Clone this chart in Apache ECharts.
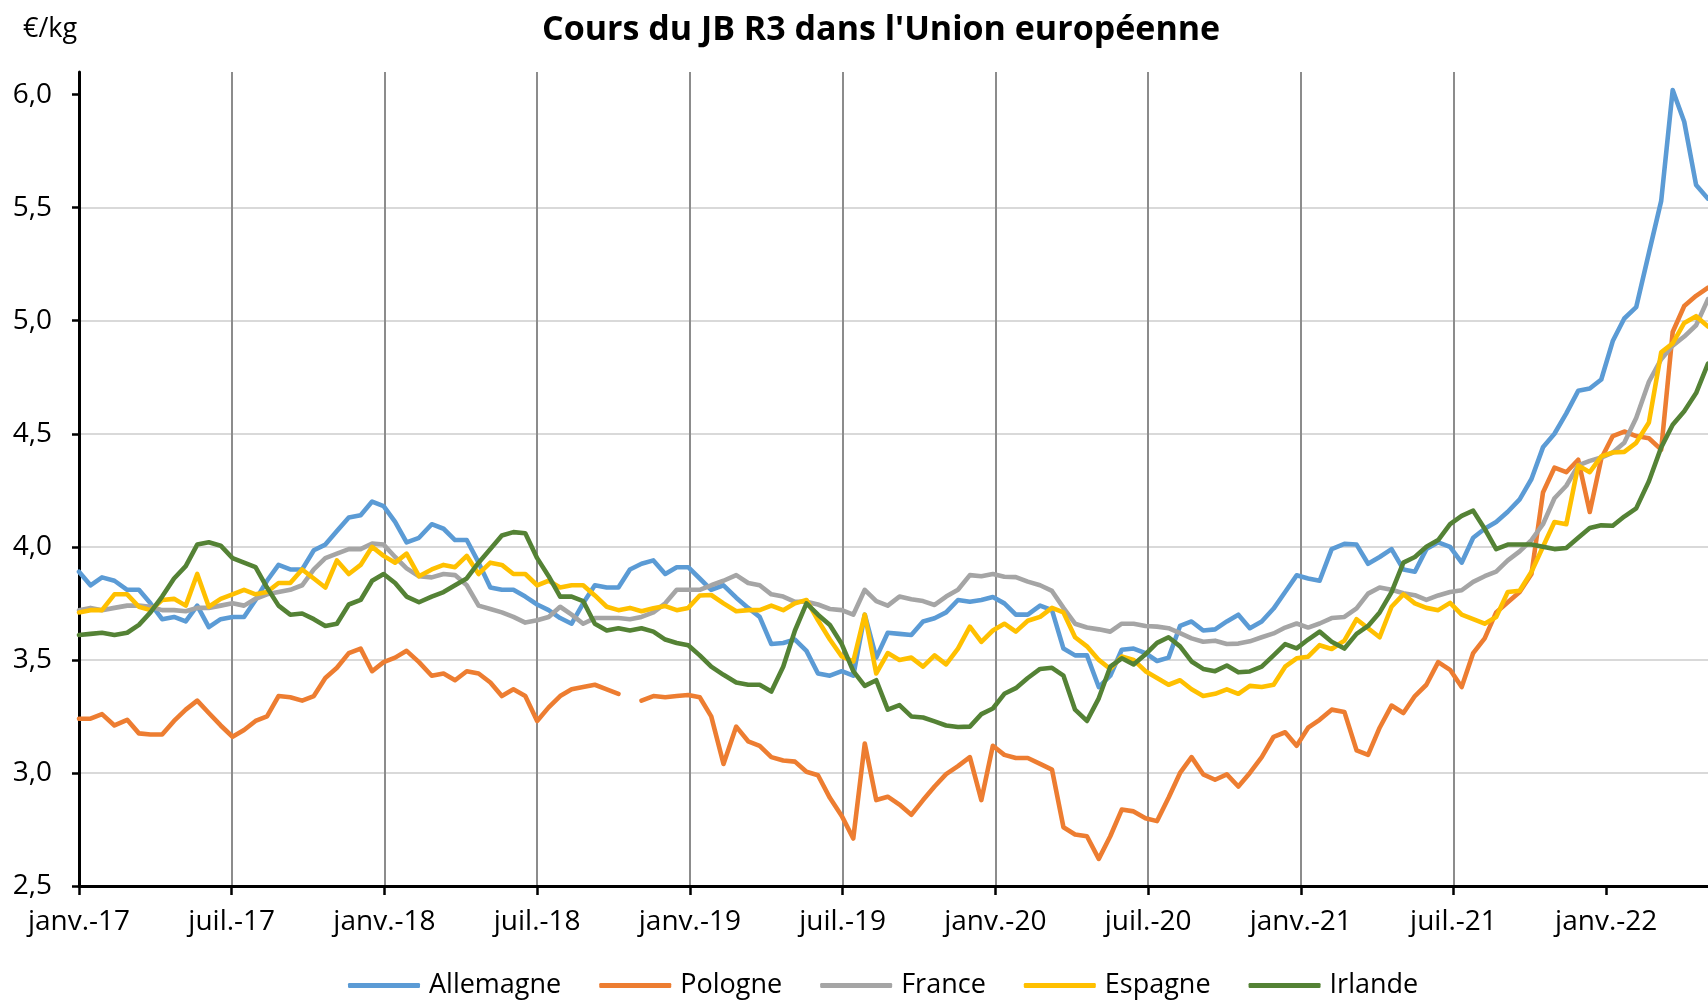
<!DOCTYPE html>
<html>
<head>
<meta charset="utf-8">
<script src="https://cdn.jsdelivr.net/npm/echarts@6/dist/echarts.min.js"></script>
</head>
<body style="margin:0">
<div id="main" style="width:1708px;height:1000px"></div>
<script>
// one quote every 14 days from 1 Jan 2017, x axis counted in months
var stepDays = 14;
var names = ['Allemagne', 'Pologne', 'France', 'Espagne', 'Irlande'];
var colors = ['#5b9bd5', '#ed7d31', '#a5a5a5', '#ffc000', '#548235'];
var yTicks = [2.5, 3.0, 3.5, 4.0, 4.5, 5.0, 5.5, 6.0];
var xTicks = [0, 6, 12, 18, 24, 30, 36, 42, 48, 54, 60];
var xLabels = ['janv.-17', 'juil.-17', 'janv.-18', 'juil.-18', 'janv.-19', 'juil.-19',
               'janv.-20', 'juil.-20', 'janv.-21', 'juil.-21', 'janv.-22'];

var allemagne = [
  3.89, 3.83, 3.865, 3.85, 3.81, 3.81, 3.75, 3.68, 3.69, 3.67, 3.74, 3.645, 3.68, 3.69, 3.69, 3.765, 3.85, 3.92, 3.90, 3.90, 3.985, 4.01, 4.07, 4.13,
  4.14, 4.2, 4.18, 4.11, 4.02, 4.04, 4.10, 4.08, 4.03, 4.03, 3.93, 3.82, 3.81, 3.81, 3.78, 3.745, 3.72, 3.685, 3.66, 3.75, 3.83, 3.82, 3.82, 3.90,
  3.925, 3.94, 3.88, 3.91, 3.91, 3.86, 3.81, 3.83, 3.775, 3.73, 3.69, 3.57, 3.575, 3.59, 3.54, 3.44, 3.43, 3.45, 3.43, 3.70, 3.51, 3.62, 3.615, 3.61,
  3.67, 3.684, 3.71, 3.765, 3.757, 3.765, 3.778, 3.75, 3.70, 3.70, 3.74, 3.72, 3.55, 3.52, 3.52, 3.38, 3.43, 3.545, 3.55, 3.53, 3.495, 3.51, 3.65, 3.67,
  3.63, 3.635, 3.67, 3.70, 3.64, 3.67, 3.727, 3.80, 3.874, 3.86, 3.85, 3.99, 4.013, 4.01, 3.925, 3.955, 3.99, 3.90, 3.89, 3.99, 4.02, 4.0, 3.93,
  4.04, 4.08, 4.11, 4.155, 4.21, 4.30, 4.44, 4.50, 4.59, 4.69, 4.70, 4.74, 4.91, 5.01, 5.06, 5.30, 5.53, 6.02, 5.88, 5.60, 5.54
];
var pologne = [
  3.24, 3.24, 3.26, 3.21, 3.235, 3.175, 3.17, 3.17, 3.23, 3.28, 3.32, 3.265, 3.21, 3.16, 3.19, 3.23, 3.25, 3.34, 3.335, 3.32, 3.34, 3.42, 3.465, 3.53,
  3.55, 3.45, 3.49, 3.51, 3.54, 3.49, 3.43, 3.44, 3.41, 3.45, 3.44, 3.40, 3.34, 3.37, 3.34, 3.23, 3.29, 3.34, 3.37, 3.38, 3.39, 3.37, 3.35, null,
  3.32, 3.34, 3.335, 3.34, 3.345, 3.335, 3.25, 3.04, 3.205, 3.14, 3.12, 3.07, 3.055, 3.05, 3.005, 2.99, 2.89, 2.81, 2.71, 3.13, 2.88, 2.895, 2.86, 2.815,
  2.88, 2.94, 2.995, 3.03, 3.07, 2.88, 3.12, 3.08, 3.066, 3.066, 3.04, 3.015, 2.76, 2.728, 2.72, 2.62, 2.72, 2.838, 2.83, 2.80, 2.787, 2.89, 3.0, 3.07,
  2.994, 2.97, 2.994, 2.94, 3.0, 3.07, 3.16, 3.18, 3.12, 3.20, 3.235, 3.28, 3.27, 3.10, 3.08, 3.20, 3.298, 3.265, 3.34, 3.39, 3.49, 3.456, 3.38,
  3.53, 3.595, 3.71, 3.755, 3.80, 3.88, 4.24, 4.35, 4.33, 4.385, 4.154, 4.39, 4.49, 4.51, 4.49, 4.48, 4.43, 4.95, 5.065, 5.11, 5.146
];
var france = [
  3.72, 3.73, 3.72, 3.73, 3.74, 3.74, 3.735, 3.72, 3.72, 3.715, 3.73, 3.73, 3.74, 3.75, 3.74, 3.77, 3.79, 3.80, 3.81, 3.83, 3.90, 3.95, 3.97, 3.99,
  3.99, 4.015, 4.01, 3.955, 3.905, 3.87, 3.865, 3.88, 3.875, 3.83, 3.74, 3.725, 3.71, 3.69, 3.665, 3.675, 3.69, 3.735, 3.70, 3.66, 3.685, 3.685, 3.685, 3.68,
  3.69, 3.71, 3.75, 3.81, 3.81, 3.81, 3.83, 3.85, 3.875, 3.84, 3.83, 3.79, 3.78, 3.757, 3.757, 3.745, 3.725, 3.72, 3.70, 3.81, 3.76, 3.74, 3.78, 3.768,
  3.76, 3.743, 3.78, 3.81, 3.875, 3.87, 3.88, 3.868, 3.866, 3.846, 3.83, 3.805, 3.73, 3.66, 3.643, 3.635, 3.625, 3.66, 3.66, 3.65, 3.647, 3.64, 3.618, 3.595,
  3.58, 3.585, 3.57, 3.572, 3.582, 3.60, 3.617, 3.643, 3.661, 3.643, 3.661, 3.685, 3.69, 3.728, 3.793, 3.82, 3.81, 3.795, 3.786, 3.765, 3.785, 3.80, 3.808,
  3.845, 3.87, 3.89, 3.94, 3.98, 4.03, 4.10, 4.215, 4.27, 4.36, 4.38, 4.395, 4.417, 4.46, 4.57, 4.73, 4.83, 4.89, 4.93, 4.98, 5.095
];
var espagne = [
  3.71, 3.72, 3.72, 3.79, 3.79, 3.735, 3.72, 3.765, 3.77, 3.74, 3.88, 3.735, 3.77, 3.79, 3.81, 3.79, 3.80, 3.84, 3.84, 3.90, 3.86, 3.82, 3.94, 3.88,
  3.92, 4.0, 3.96, 3.93, 3.97, 3.87, 3.90, 3.92, 3.91, 3.96, 3.88, 3.93, 3.92, 3.88, 3.88, 3.83, 3.85, 3.82, 3.83, 3.83, 3.785, 3.735, 3.72, 3.73,
  3.715, 3.728, 3.738, 3.72, 3.73, 3.785, 3.787, 3.75, 3.715, 3.72, 3.72, 3.74, 3.72, 3.75, 3.765, 3.675, 3.59, 3.515, 3.493, 3.70, 3.44, 3.53, 3.50, 3.51,
  3.47, 3.52, 3.48, 3.55, 3.647, 3.58, 3.63, 3.66, 3.625, 3.673, 3.69, 3.73, 3.71, 3.60, 3.56, 3.50, 3.46, 3.515, 3.50, 3.45, 3.42, 3.39, 3.41, 3.37,
  3.34, 3.35, 3.37, 3.35, 3.385, 3.38, 3.39, 3.47, 3.507, 3.514, 3.565, 3.548, 3.585, 3.68, 3.64, 3.60, 3.735, 3.79, 3.75, 3.73, 3.72, 3.752, 3.70,
  3.68, 3.66, 3.69, 3.80, 3.806, 3.89, 4.0, 4.11, 4.10, 4.36, 4.33, 4.40, 4.417, 4.42, 4.46, 4.55, 4.86, 4.90, 4.99, 5.02, 4.974
];
var irlande = [
  3.61, 3.615, 3.62, 3.61, 3.62, 3.655, 3.71, 3.78, 3.86, 3.915, 4.01, 4.02, 4.005, 3.95, 3.93, 3.91, 3.82, 3.74, 3.70, 3.705, 3.68, 3.65, 3.66, 3.745,
  3.765, 3.85, 3.88, 3.84, 3.78, 3.755, 3.78, 3.80, 3.83, 3.86, 3.93, 3.99, 4.05, 4.065, 4.06, 3.95, 3.87, 3.78, 3.78, 3.76, 3.66, 3.63, 3.64, 3.63,
  3.64, 3.625, 3.59, 3.575, 3.565, 3.52, 3.47, 3.434, 3.40, 3.39, 3.39, 3.36, 3.47, 3.63, 3.75, 3.70, 3.654, 3.57, 3.45, 3.385, 3.41, 3.28, 3.30, 3.25,
  3.245, 3.228, 3.21, 3.203, 3.205, 3.26, 3.285, 3.35, 3.375, 3.42, 3.46, 3.465, 3.43, 3.28, 3.23, 3.33, 3.47, 3.507, 3.48, 3.525, 3.575, 3.60, 3.56, 3.493,
  3.46, 3.45, 3.475, 3.445, 3.449, 3.47, 3.52, 3.57, 3.551, 3.59, 3.625, 3.58, 3.55, 3.615, 3.65, 3.71, 3.80, 3.93, 3.955, 4.0, 4.03, 4.10, 4.137,
  4.16, 4.08, 3.99, 4.01, 4.01, 4.01, 4.0, 3.99, 3.995, 4.04, 4.083, 4.095, 4.093, 4.134, 4.17, 4.29, 4.44, 4.54, 4.60, 4.68, 4.81
];
var values = [allemagne, pologne, france, espagne, irlande];

// position of quote i in months since janv.-17
function monthPos(i) {
    var d = new Date(Date.UTC(2017, 0, 1 + i * stepDays));
    var y = d.getUTCFullYear(), m = d.getUTCMonth();
    var dim = new Date(Date.UTC(y, m + 1, 0)).getUTCDate();
    return (y - 2017) * 12 + m + (d.getUTCDate() - 1) / dim;
}

var font = 'Open Sans';
var chart = echarts.init(document.getElementById('main'));
var series = names.map(function (n, k) {
    return {
        name: n,
        type: 'line',
        showSymbol: false,
        symbol: 'none',
        connectNulls: false,
        color: colors[k],
        lineStyle: {width: 4.6, color: colors[k], cap: 'round', join: 'round'},
        data: values[k].map(function (v, i) { return [monthPos(i), v]; })
    };
});

chart.setOption({
    animation: false,
    textStyle: {fontFamily: font},
    title: [{
        text: "Cours du JB R3 dans l'Union européenne",
        left: 537, top: 8,
        textStyle: {fontSize: 34, fontWeight: 'bold', color: '#000', fontFamily: font}
    }, {
        text: '€/kg',
        left: 18, top: 11,
        textStyle: {fontSize: 27, fontWeight: 'normal', color: '#000', fontFamily: font}
    }],
    legend: {
        data: names,
        left: 343, top: 967,
        icon: 'roundRect',
        itemWidth: 72, itemHeight: 5, itemGap: 38,
        textStyle: {fontSize: 27, color: '#000', fontFamily: font, padding: [0, 0, 0, 4]}
    },
    grid: {left: 79, right: 0, top: 72, bottom: 114, containLabel: false},
    xAxis: {
        type: 'value', min: 0, max: 64, interval: 6,
        axisLine: {lineStyle: {color: '#000', width: 3}},
        axisTick: {length: 9, lineStyle: {color: '#000', width: 2.5}, customValues: xTicks},
        axisLabel: {
            customValues: xTicks,
            margin: 22, fontSize: 28, color: '#000', fontFamily: font,
            formatter: function (v) { return xLabels[xTicks.indexOf(v)] || ''; }
        },
        splitLine: {show: true, showMinLine: false, showMaxLine: false, lineStyle: {color: '#8c8c8c', width: 2}}
    },
    yAxis: {
        type: 'value', min: 2.5, max: 6.1, interval: 0.5,
        axisLine: {show: true, lineStyle: {color: '#000', width: 3}},
        axisTick: {show: true, length: 7, lineStyle: {color: '#000', width: 2.5}, customValues: yTicks},
        axisLabel: {
            customValues: yTicks,
            margin: 27, fontSize: 28, color: '#000', fontFamily: font,
            formatter: function (v) { return v.toFixed(1).replace('.', ','); }
        },
        splitLine: {show: true, showMinLine: false, showMaxLine: false, lineStyle: {color: '#d9d9d9', width: 2}}
    },
    series: series
});
</script>
</body>
</html>
